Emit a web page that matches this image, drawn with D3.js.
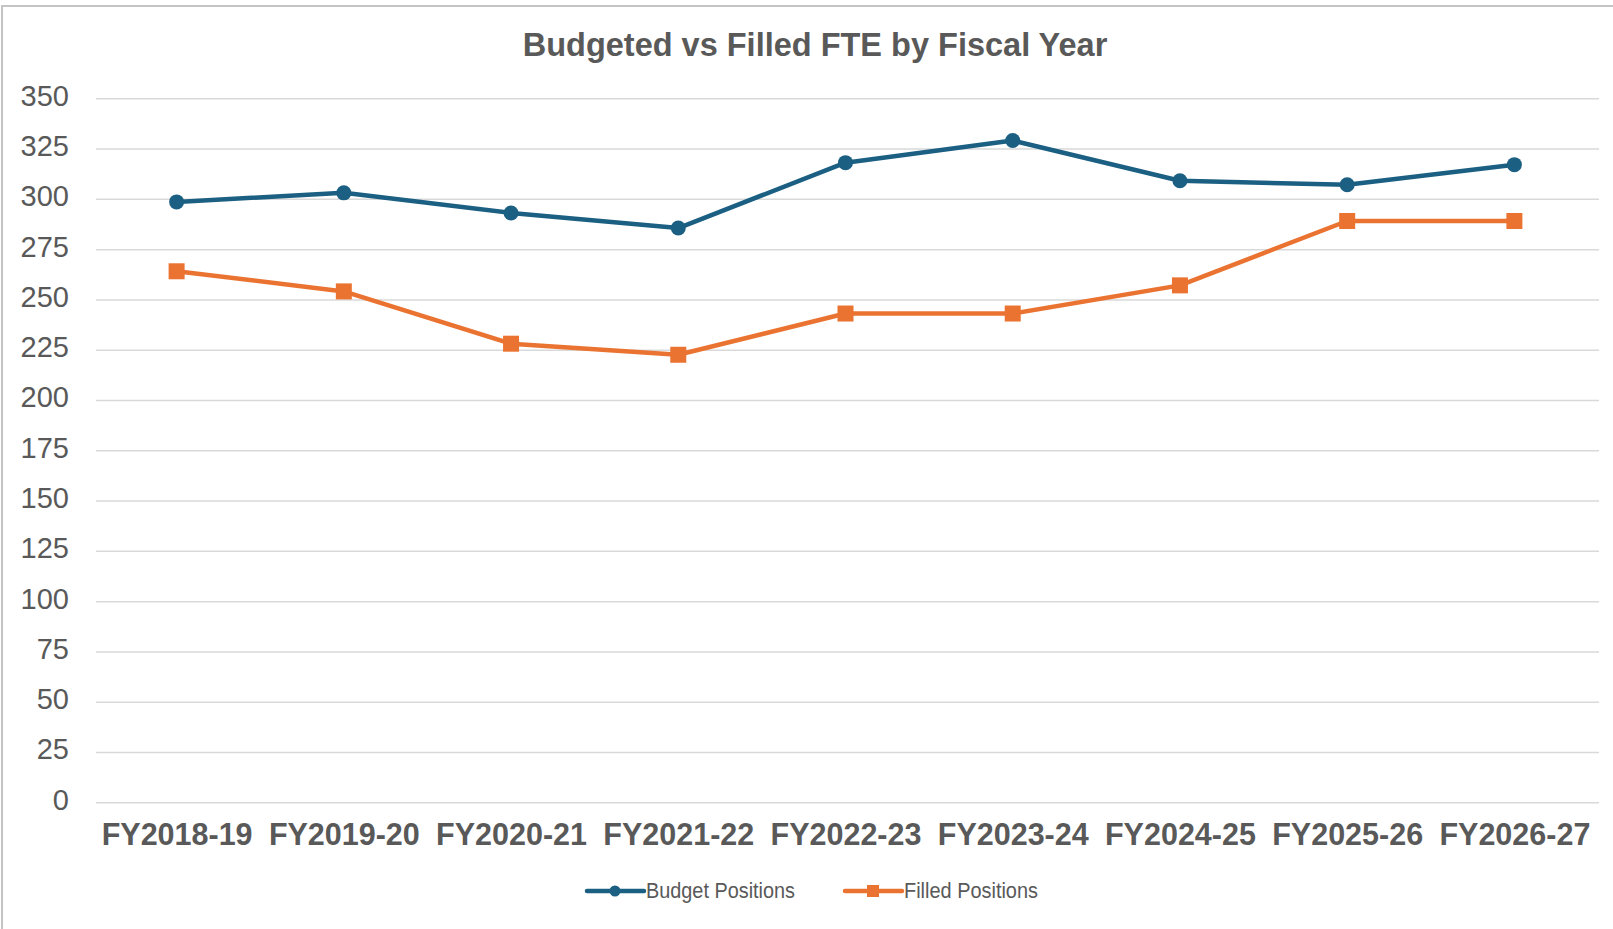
<!DOCTYPE html>
<html>
<head>
<meta charset="utf-8">
<script src="https://cdn.jsdelivr.net/npm/d3@7"></script>
<style>
  body { margin: 0; background: #fff; }
  text { font-family: "Liberation Sans", Arial, sans-serif; fill: #595959; }
</style>
</head>
<body>
<div id="chart"></div>
<script>
// chart data
const years = ['FY2018-19', 'FY2019-20', 'FY2020-21', 'FY2021-22', 'FY2022-23',
               'FY2023-24', 'FY2024-25', 'FY2025-26', 'FY2026-27'];
const budgetPositions = [298.5, 303, 293, 285.5, 318, 329, 309, 307, 317];
const filledPositions = [264, 254, 228, 222.5, 243, 243, 257, 289, 289];
const yTicks = [0, 25, 50, 75, 100, 125, 150, 175, 200, 225, 250, 275, 300, 325, 350];

const W = 1613, H = 929;
const plot = {left: 96, right: 1599, top: 98.3, bottom: 802.3};

const blue = '#1b5f82';
const orange = '#eb7331';

const svg = d3.select('#chart')
    .append('svg')
    .attr('width', W)
    .attr('height', H);

// outer frame
svg.append('rect')
    .attr('x', 2).attr('y', 6)
    .attr('width', W + 20).attr('height', H + 20)
    .attr('fill', '#fff')
    .attr('stroke', '#c4c4c4')
    .attr('stroke-width', 2);

svg.append('text')
    .attr('x', 815)
    .attr('y', 56)
    .attr('text-anchor', 'middle')
    .style('font-size', '32.5px')
    .style('font-weight', 'bold')
    .text('Budgeted vs Filled FTE by Fiscal Year');

const x = d3.scalePoint()
    .domain(years)
    .range([93, 1598])
    .padding(0.5);

const y = d3.scaleLinear()
    .domain([0, 350])
    .range([plot.bottom, plot.top]);

// y axis + gridlines
const yAxis = svg.append('g')
    .attr('transform', `translate(${plot.left},0)`)
    .call(d3.axisLeft(y)
        .tickValues(yTicks)
        .tickSize(-(plot.right - plot.left))
        .tickPadding(27));

yAxis.select('.domain').remove();
yAxis.selectAll('line')
    .attr('stroke', '#d9d9d9')
    .attr('stroke-width', 1.5);
yAxis.selectAll('text')
    .attr('dy', '0.24em')
    .style('font-size', '29px')
    .style('fill', '#595959');

// x axis labels
const xAxis = svg.append('g')
    .attr('transform', `translate(0,${plot.bottom})`)
    .call(d3.axisBottom(x).tickSize(0).tickPadding(0));

xAxis.select('.domain').remove();
xAxis.selectAll('text')
    .attr('y', 43)
    .attr('dy', 0)
    .style('font-size', '30.5px')
    .style('font-weight', 'bold')
    .style('fill', '#595959');

const line = d3.line()
    .x((d, i) => x(years[i]))
    .y(d => y(d));

// filled series
svg.append('path')
    .datum(filledPositions)
    .attr('fill', 'none')
    .attr('stroke', orange)
    .attr('stroke-width', 4.5)
    .attr('stroke-linejoin', 'round')
    .attr('d', line);

svg.selectAll('.filled-pt')
    .data(filledPositions)
    .enter()
    .append('rect')
    .attr('class', 'filled-pt')
    .attr('x', (d, i) => x(years[i]) - 8)
    .attr('y', d => y(d) - 8)
    .attr('width', 16)
    .attr('height', 16)
    .attr('fill', orange);

// budget series
svg.append('path')
    .datum(budgetPositions)
    .attr('fill', 'none')
    .attr('stroke', blue)
    .attr('stroke-width', 4.5)
    .attr('stroke-linejoin', 'round')
    .attr('d', line);

svg.selectAll('.budget-pt')
    .data(budgetPositions)
    .enter()
    .append('circle')
    .attr('class', 'budget-pt')
    .attr('cx', (d, i) => x(years[i]))
    .attr('cy', d => y(d))
    .attr('r', 7.5)
    .attr('fill', blue);

// legend
const legendItems = [
    {name: 'Budget Positions', color: blue, shape: 'circle', x: 587, textWidth: 149},
    {name: 'Filled Positions', color: orange, shape: 'square', x: 845, textWidth: 134}
];

const legend = svg.selectAll('.legend')
    .data(legendItems)
    .enter()
    .append('g')
    .attr('class', 'legend')
    .attr('transform', d => `translate(${d.x},891)`);

legend.append('line')
    .attr('x1', 0).attr('x2', 57)
    .attr('y1', 0).attr('y2', 0)
    .attr('stroke', d => d.color)
    .attr('stroke-width', 4.5)
    .attr('stroke-linecap', 'round');

legend.filter(d => d.shape === 'circle')
    .append('circle')
    .attr('cx', 28).attr('cy', 0).attr('r', 5.5)
    .attr('fill', d => d.color);

legend.filter(d => d.shape === 'square')
    .append('rect')
    .attr('x', 22).attr('y', -6)
    .attr('width', 12).attr('height', 12)
    .attr('fill', d => d.color);

legend.append('text')
    .attr('x', 59)
    .attr('y', 7)
    .attr('textLength', d => d.textWidth)
    .attr('lengthAdjust', 'spacingAndGlyphs')
    .style('font-size', '22px')
    .text(d => d.name);
</script>
</body>
</html>
